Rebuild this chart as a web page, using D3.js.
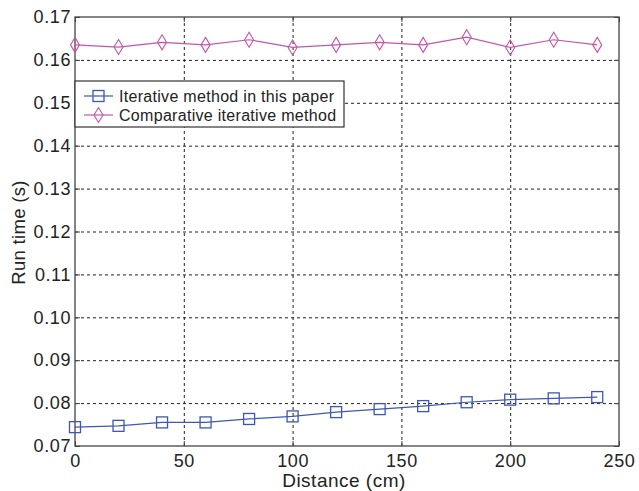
<!DOCTYPE html>
<html>
<head>
<script src="https://d3js.org/d3.v7.min.js"></script>
<style>
  body { margin: 0; background: #fff; }
  text { font-family: "Liberation Sans", Arial, sans-serif; fill: #222; }
  .grid line { stroke: #222; stroke-dasharray: 3,3; stroke-width: 1; }
  .grid path { display: none; }
</style>
</head>
<body>
<div id="chart"></div>
<script>
const distances = [0, 20, 40, 60, 80, 100, 120, 140, 160, 180, 200, 220, 240];
const proposed = [0.0744, 0.0747, 0.0755, 0.0755, 0.0763, 0.0769, 0.0779, 0.0786, 0.0793, 0.0802, 0.0808, 0.0811, 0.0814];
const comparative = [0.1635, 0.1630, 0.1641, 0.1635, 0.1647, 0.1629, 0.1635, 0.1641, 0.1635, 0.1653, 0.1629, 0.1647, 0.1635];
const xTicks = [0, 50, 100, 150, 200, 250];
const yTicks = [0.07, 0.08, 0.09, 0.10, 0.11, 0.12, 0.13, 0.14, 0.15, 0.16, 0.17];
const seriesNames = ['Iterative method in this paper', 'Comparative iterative method'];

const width = 639, height = 491;
const margin = { top: 17, right: 20, bottom: 45, left: 75 };
const w = width - margin.left - margin.right;
const h = height - margin.top - margin.bottom;

const svg = d3.select('#chart').append('svg')
  .attr('width', width).attr('height', height);
const g = svg.append('g').attr('transform', `translate(${margin.left},${margin.top})`);

const x = d3.scaleLinear().domain([0, 250]).range([0, w]);
const y = d3.scaleLinear().domain([0.07, 0.17]).range([h, 0]);

// grid
g.append('g').attr('class', 'grid')
  .attr('transform', `translate(0,${h})`)
  .call(d3.axisBottom(x).tickValues(xTicks.slice(1, -1)).tickSize(-h).tickFormat(''));
g.append('g').attr('class', 'grid')
  .call(d3.axisLeft(y).tickValues(yTicks.slice(1, -1)).tickSize(-w).tickFormat(''));

// frame
g.append('rect').attr('width', w).attr('height', h)
  .attr('fill', 'none').attr('stroke', '#444').attr('stroke-width', 1.3);

// axes with inward ticks
const xAx = g.append('g').attr('transform', `translate(0,${h})`)
  .call(d3.axisBottom(x).tickValues(xTicks).tickSize(-5).tickPadding(8).tickFormat(d3.format('d')));
const yAx = g.append('g')
  .call(d3.axisLeft(y).tickValues(yTicks).tickSize(-5).tickPadding(4).tickFormat(d3.format('.2f')));
g.append('g').attr('transform', `translate(${w},0)`)
  .call(d3.axisRight(y).tickValues(yTicks).tickSize(-5).tickFormat(''));
g.append('g')
  .call(d3.axisTop(x).tickValues(xTicks).tickSize(-5).tickFormat(''));
g.selectAll('.domain').remove();
g.selectAll('.tick line').attr('stroke', '#444');
g.selectAll('.tick text').style('font-size', '18px').style('letter-spacing', '0.6px')
  .attr('fill', '#222');
xAx.selectAll('text').attr('dy', '0.71em');

svg.append('text').attr('x', margin.left + w / 2 - 3).attr('y', 487)
  .attr('text-anchor', 'middle').style('font-size', '19px').style('letter-spacing', '0.5px')
  .text('Distance (cm)');
svg.append('text').attr('transform', `translate(25,${margin.top + h / 2 + 1}) rotate(-90)`)
  .attr('text-anchor', 'middle').style('font-size', '18.5px').style('letter-spacing', '0.3px')
  .text('Run time (s)');

const blue = '#3c58b4', pink = '#c455a8';
const line = d3.line().x((d, i) => x(distances[i])).y(d => y(d));

function square(sel, color) {
  sel.append('rect').attr('x', -5.5).attr('y', -5.5).attr('width', 11).attr('height', 11)
    .attr('fill', 'none').attr('stroke', color).attr('stroke-width', 1.3);
}
function diamond(sel, color) {
  sel.append('path').attr('d', 'M0,-7.5 L4.5,0 L0,7.5 L-4.5,0 Z')
    .attr('fill', 'none').attr('stroke', color).attr('stroke-width', 1.1);
}

g.append('path').datum(proposed).attr('d', line)
  .attr('fill', 'none').attr('stroke', blue).attr('stroke-width', 1.2);
g.append('path').datum(comparative).attr('d', line)
  .attr('fill', 'none').attr('stroke', pink).attr('stroke-width', 1.2);

g.selectAll('.sq').data(proposed).enter().append('g')
  .attr('transform', (d, i) => `translate(${x(distances[i])},${y(d)})`)
  .each(function() { square(d3.select(this), blue); });
g.selectAll('.dm').data(comparative).enter().append('g')
  .attr('transform', (d, i) => `translate(${x(distances[i])},${y(d)})`)
  .each(function() { diamond(d3.select(this), pink); });

// legend
const lg = svg.append('g').attr('transform', 'translate(75,81)');
lg.append('rect').attr('width', 269).attr('height', 46)
  .attr('fill', '#fff').attr('stroke', '#333').attr('stroke-width', 1.2);
const colors = [blue, pink];
seriesNames.forEach((name, i) => {
  const row = lg.append('g').attr('transform', `translate(0,${15 + i * 19})`);
  row.append('line').attr('x1', 9).attr('x2', 38).attr('stroke', colors[i]).attr('stroke-width', 1.2);
  const m = row.append('g').attr('transform', 'translate(23.5,0)');
  if (i === 0) square(m, colors[i]); else diamond(m, colors[i]);
  row.append('text').attr('x', 44).attr('dy', '0.35em')
    .style('font-size', '16px').style('letter-spacing', '0.3px').text(name);
});
</script>
</body>
</html>
